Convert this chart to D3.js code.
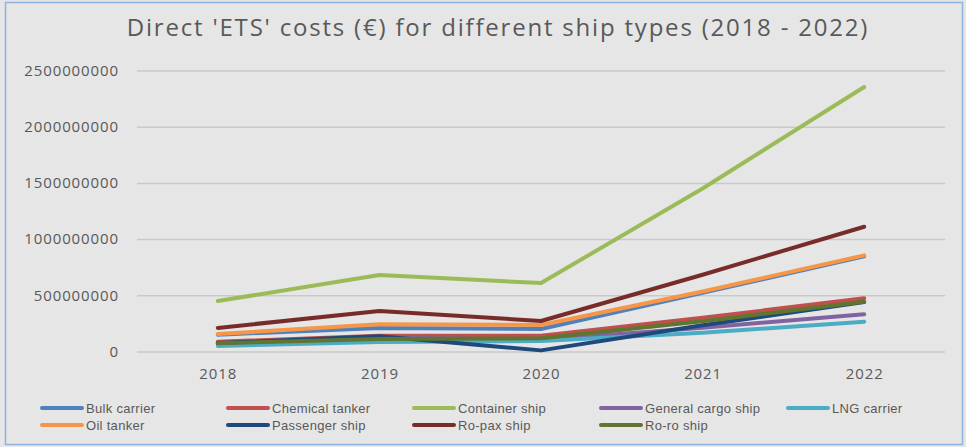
<!DOCTYPE html>
<html>
<head>
<meta charset="utf-8">
<script src="https://cdn.jsdelivr.net/npm/d3@7"></script>
<style>
  html, body { margin: 0; padding: 0; background: #ffffff; }
  svg { display: block; }
  text { font-family: "Open Sans", "Noto Sans", sans-serif; fill: #595959; }
</style>
</head>
<body>
<svg id="chart" width="966" height="447"></svg>
<script>
// Years on the category axis
const years = ["2018", "2019", "2020", "2021", "2022"];

// Direct ETS costs (EUR) per ship type and year
const bulkCarrier     = [150e6, 210e6, 200e6, 522e6, 848e6];
const chemicalTanker  = [87e6, 140e6, 141e6, 300e6, 473e6];
const containerShip   = [449e6, 680e6, 609e6, 1450e6, 2353e6];
const generalCargo    = [70e6, 125e6, 105e6, 212e6, 331e6];
const lngCarrier      = [49e6, 85e6, 93e6, 167e6, 265e6];
const oilTanker       = [156e6, 242e6, 236e6, 534e6, 855e6];
const passengerShip   = [75e6, 135e6, 10e6, 233e6, 440e6];
const roPaxShip       = [210e6, 360e6, 271e6, 683e6, 1110e6];
const roRoShip        = [73e6, 112e6, 117e6, 270e6, 443e6];

// Value axis ticks
const yTicks = [0, 500000000, 1000000000, 1500000000, 2000000000, 2500000000];

const series = [
  { name: "Bulk carrier",       values: bulkCarrier,    color: "#4f81bd" },
  { name: "Chemical tanker",    values: chemicalTanker, color: "#c0504d" },
  { name: "Container ship",     values: containerShip,  color: "#9bbb59" },
  { name: "General cargo ship", values: generalCargo,   color: "#8064a2" },
  { name: "LNG carrier",        values: lngCarrier,     color: "#4bacc6" },
  { name: "Oil tanker",         values: oilTanker,      color: "#f79646" },
  { name: "Passenger ship",     values: passengerShip,  color: "#1f497d" },
  { name: "Ro-pax ship",        values: roPaxShip,      color: "#772c2a" },
  { name: "Ro-ro ship",         values: roRoShip,       color: "#5f7530" }
];

const svg = d3.select("#chart");
const W = 966, H = 447;

// chart area background and frame
svg.append("rect").attr("x", 0).attr("y", 0).attr("width", W).attr("height", H).attr("fill", "#e6e6e6");
svg.append("rect").attr("x", 5.5).attr("y", 2.5).attr("width", 957).attr("height", 442)
  .attr("fill", "none").attr("stroke", "#8db3e2").attr("stroke-width", 1.5);

const plot = { left: 137, right: 945, top: 70.5, bottom: 351.5 };

const x = d3.scalePoint().domain(years).range([plot.left, plot.right]).padding(0.5);
const y = d3.scaleLinear().domain([0, 2500000000]).range([plot.bottom, plot.top]);

// title
svg.append("text")
  .attr("x", 498).attr("y", 36)
  .attr("text-anchor", "middle")
  .style("font-size", "24px")
  .style("letter-spacing", "1.8px")
  .text("Direct 'ETS' costs (€) for different ship types (2018 - 2022)");

// horizontal gridlines
const yAxis = d3.axisLeft(y).tickValues(yTicks).tickFormat(d3.format("d"))
  .tickSize(-(plot.right - plot.left)).tickPadding(18);
const gy = svg.append("g").attr("transform", `translate(${plot.left},0)`).call(yAxis);
gy.select(".domain").remove();
gy.selectAll(".tick line").attr("stroke", "#c9c9c9").attr("stroke-width", 1.5);
gy.selectAll(".tick text").style("font-size", "15px").attr("fill", "#595959")
  .style("letter-spacing", "0.9px");

// category labels
const xAxis = d3.axisBottom(x).tickSize(0).tickPadding(17);
const gx = svg.append("g").attr("transform", `translate(0,${plot.bottom})`).call(xAxis);
gx.select(".domain").remove();
gx.selectAll(".tick text").style("font-size", "15px").attr("fill", "#595959")
  .style("letter-spacing", "0.9px");

// series lines
const line = d3.line().x((d, i) => x(years[i])).y(d => y(d));
svg.append("g").selectAll("path").data(series).join("path")
  .attr("d", s => line(s.values))
  .attr("fill", "none")
  .attr("stroke", s => s.color)
  .attr("stroke-width", 4)
  .attr("stroke-linecap", "round")
  .attr("stroke-linejoin", "round");

// legend: two rows, five columns
const legend = svg.append("g");
const colX = [42, 228, 414, 601, 788];
const rowY = [408, 425];
series.forEach((s, i) => {
  const cx = colX[i % 5], cy = rowY[Math.floor(i / 5)];
  legend.append("line")
    .attr("x1", cx).attr("x2", cx + 40).attr("y1", cy).attr("y2", cy)
    .attr("stroke", s.color).attr("stroke-width", 4).attr("stroke-linecap", "round");
  legend.append("text")
    .attr("x", cx + 44).attr("y", cy).attr("dy", "0.35em")
    .style("font-family", "'Liberation Sans', Arial, sans-serif")
    .style("font-size", "13px")
    .style("letter-spacing", "0.3px")
    .text(s.name);
});
</script>
</body>
</html>
